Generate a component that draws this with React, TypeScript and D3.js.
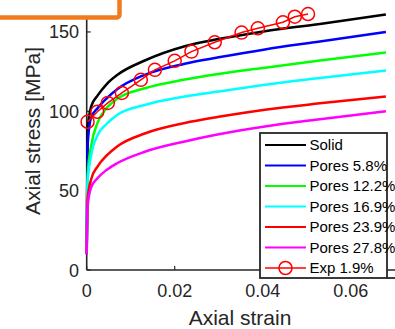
import * as d3 from "d3";

const strain = [0, 0.0002, 0.001, 0.0025, 0.0045, 0.007, 0.0132, 0.0223, 0.03, 0.0405, 0.053, 0.068];
const solid = [10, 88, 103, 110, 117, 123, 132, 141, 145.5, 150.5, 155, 161];
const pores58 = [10, 78, 96, 102, 108, 114, 123, 130, 134, 139, 144, 150];
const pores122 = [10, 60, 78, 93, 102, 108, 114.5, 120, 123.5, 127.5, 132, 137];
const pores169 = [10, 55, 72, 85, 92, 97.8, 104, 109.3, 112.5, 116.7, 121, 125.7];
const pores239 = [10, 45, 57, 65.3, 72, 78, 86, 92.6, 96.5, 101, 105, 109.3];
const pores278 = [10, 40, 52, 58, 63, 67.4, 74.5, 81, 85.5, 90.4, 95, 100];

const expStrain = [0.0002, 0.0024, 0.0048, 0.008, 0.0123, 0.0155, 0.02, 0.0238, 0.0291, 0.0352, 0.0389, 0.0446, 0.0473, 0.0503];
const expStress = [93.4, 99.7, 105.3, 111.6, 119.8, 126.1, 131.8, 137.6, 143.5, 149.6, 152.3, 156.1, 159.6, 161.3];

const seriesNames = ["Solid", "Pores 5.8%", "Pores 12.2%", "Pores 16.9%", "Pores 23.9%", "Pores 27.8%"];
const seriesColors = ["#000000", "#0000ff", "#00ff00", "#00ffff", "#ff0000", "#ff00ff"];
const seriesValues = [solid, pores58, pores122, pores169, pores239, pores278];
const expName = "Exp 1.9%";

const xTicks = [0, 0.02, 0.04, 0.06];
const yTicks = [0, 50, 100, 150];

const W = 395;
const H = 329;
const font = "'Liberation Sans', Arial, sans-serif";
const axisColor = "#262626";

export default function App() {
  const x = d3.scaleLinear().domain([0, 0.07]).range([86.7, 394.7]);
  const y = d3.scaleLinear().domain([0, 170]).range([270, 0.2]);

  const line = d3
    .line<[number, number]>()
    .x((d) => x(d[0]))
    .y((d) => y(d[1]))
    .curve(d3.curveMonotoneX);

  const expLine = d3
    .line<[number, number]>()
    .x((d) => x(d[0]))
    .y((d) => y(d[1]));

  const expPts: [number, number][] = expStrain.map((s, i) => [s, expStress[i]]);

  // legend layout
  const lg = { x: 260, y: 133, w: 127, h: 145 };
  const rowY = (i: number) => 145 + i * 20.5;

  return (
    <svg
      width={W}
      height={H}
      style={{ position: "absolute", left: 0, top: 0, background: "#fff" }}
      fontFamily={font}
    >
      {/* axes */}
      <line x1={x(0)} x2={x(0)} y1={0} y2={y(0)} stroke={axisColor} strokeWidth={1.6} />
      <line x1={x(0)} x2={W} y1={y(0)} y2={y(0)} stroke={axisColor} strokeWidth={1.6} />
      {xTicks.map((t) => (
        <g key={"xt" + t}>
          <line x1={x(t)} x2={x(t)} y1={y(0)} y2={y(0) - 4} stroke={axisColor} strokeWidth={1.2} />
          <text x={x(t)} y={297} fontSize={18} textAnchor="middle" fill={axisColor}>
            {t === 0 ? "0" : t.toFixed(2)}
          </text>
        </g>
      ))}
      {yTicks.map((t) => (
        <g key={"yt" + t}>
          <line x1={x(0)} x2={x(0) + 4} y1={y(t)} y2={y(t)} stroke={axisColor} strokeWidth={1.2} />
          <text x={79} y={y(t) + 6.5} fontSize={18} textAnchor="end" fill={axisColor}>
            {t}
          </text>
        </g>
      ))}
      <text x={240} y={325} fontSize={21} textAnchor="middle" fill={axisColor}>
        Axial strain
      </text>
      <text transform="translate(40,131) rotate(-90)" fontSize={21} textAnchor="middle" fill={axisColor}>
        Axial stress [MPa]
      </text>

      {/* model curves */}
      {seriesValues.map((vals, i) => (
        <path
          key={seriesNames[i]}
          d={line(strain.map((s, j) => [s, vals[j]]) as [number, number][]) || ""}
          fill="none"
          stroke={seriesColors[i]}
          strokeWidth={2.5}
        />
      ))}

      {/* experiment */}
      <path d={expLine(expPts) || ""} fill="none" stroke="#ff0000" strokeWidth={1.5} />
      {expPts.map((p, i) => (
        <circle key={"e" + i} cx={x(p[0])} cy={y(p[1])} r={6.5} fill="none" stroke="#ff0000" strokeWidth={1.5} />
      ))}

      {/* legend */}
      <rect x={lg.x} y={lg.y} width={lg.w} height={lg.h} fill="#fff" stroke={axisColor} strokeWidth={1.8} />
      <line x1={lg.x + lg.w} x2={W} y1={lg.y + lg.h} y2={lg.y + lg.h} stroke={axisColor} strokeWidth={1.8} />
      {seriesNames.map((name, i) => (
        <g key={"lg" + name}>
          <line x1={265} x2={306} y1={rowY(i)} y2={rowY(i)} stroke={seriesColors[i]} strokeWidth={2} />
          <text x={309.5} y={rowY(i) + 5.3} fontSize={15} fill="#000">
            {name}
          </text>
        </g>
      ))}
      <line x1={265} x2={306} y1={rowY(6)} y2={rowY(6)} stroke="#ff0000" strokeWidth={1.5} />
      <circle cx={285.5} cy={rowY(6)} r={6.5} fill="none" stroke="#ff0000" strokeWidth={1.5} />
      <text x={309.5} y={rowY(6) + 5.3} fontSize={15} fill="#000">
        {expName}
      </text>

      {/* orange label box */}
      <rect x={-10} y={-10} width={129.5} height={27.5} rx={3} fill="#fff" stroke="#f07b1d" strokeWidth={4.5} />
    </svg>
  );
}
